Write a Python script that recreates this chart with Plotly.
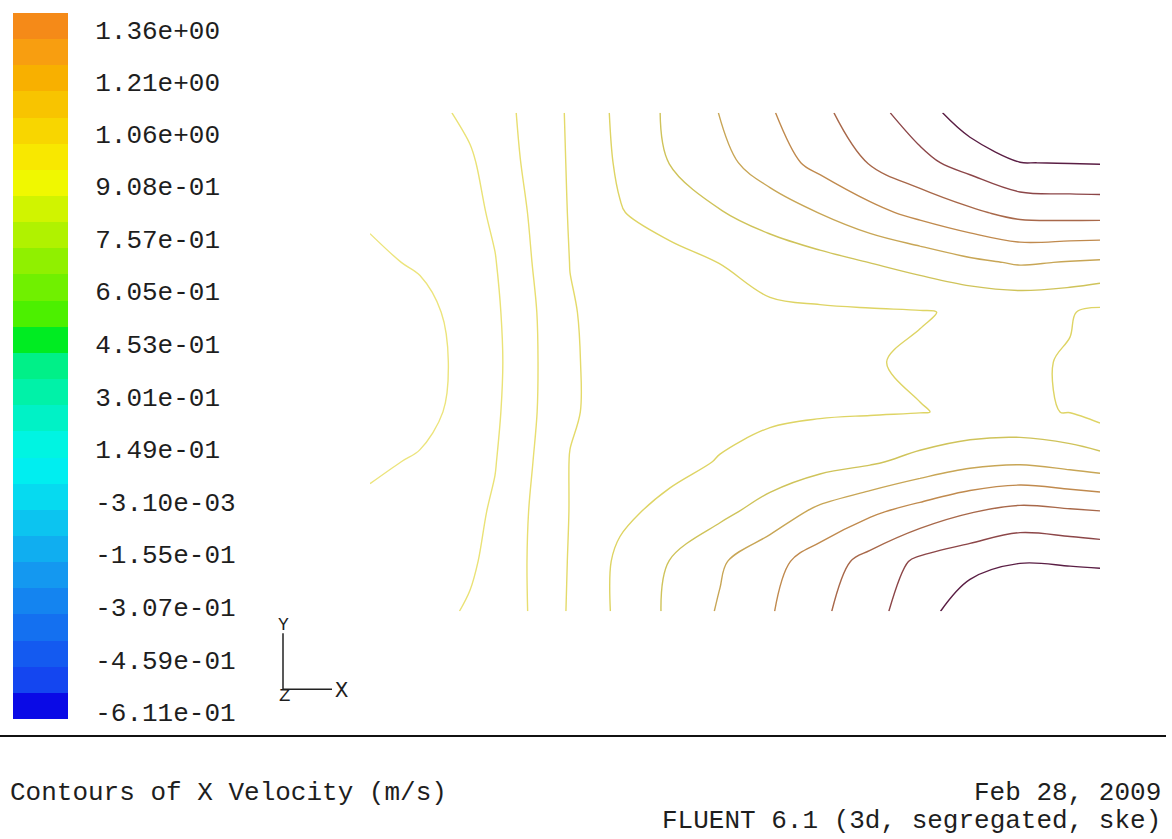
import numpy as np
import plotly.graph_objects as go

# ---------------- data ----------------
# grid node positions of the sampled X-velocity field (m)
X_NODES = [0.00, 0.05, 0.10, 0.125, 0.15, 0.20, 0.25, 0.30, 0.35, 0.40, 0.45,
           0.50, 0.55, 0.60, 0.65, 0.70, 0.73]
Y_NODES = [0.25, 0.20, 0.15, 0.10, 0.05, 0.00, -0.05, -0.10, -0.15, -0.20, -0.25]

# X velocity (m/s), one row per Y node (top -> bottom)
U_ROW_1 = [0.851, 0.870, 0.917, 0.947, 0.980, 1.059, 1.143, 1.214, 1.277, 1.343, 1.406, 1.474, 1.538, 1.620, 1.673, 1.680, 1.688]
U_ROW_2 = [0.848, 0.866, 0.890, 0.932, 0.974, 1.057, 1.136, 1.202, 1.253, 1.313, 1.373, 1.429, 1.481, 1.528, 1.574, 1.577, 1.579]
U_ROW_3 = [0.836, 0.855, 0.881, 0.911, 0.961, 1.055, 1.121, 1.158, 1.196, 1.237, 1.277, 1.328, 1.372, 1.412, 1.448, 1.454, 1.455]
U_ROW_4 = [0.810, 0.834, 0.877, 0.897, 0.951, 1.051, 1.076, 1.100, 1.126, 1.151, 1.175, 1.201, 1.228, 1.260, 1.283, 1.271, 1.265]
U_ROW_5 = [0.784, 0.800, 0.859, 0.888, 0.939, 1.046, 1.073, 1.091, 1.103, 1.114, 1.116, 1.118, 1.121, 1.133, 1.136, 1.129, 1.110]
U_ROW_6 = [0.776, 0.791, 0.851, 0.884, 0.935, 1.046, 1.065, 1.084, 1.095, 1.103, 1.110, 1.121, 1.133, 1.134, 1.133, 1.121, 1.103]
U_ROW_7 = [0.784, 0.797, 0.858, 0.888, 0.939, 1.044, 1.073, 1.091, 1.103, 1.114, 1.118, 1.120, 1.123, 1.133, 1.133, 1.123, 1.095]
U_ROW_8 = [0.810, 0.834, 0.877, 0.897, 0.948, 1.052, 1.077, 1.103, 1.129, 1.149, 1.170, 1.190, 1.223, 1.253, 1.264, 1.244, 1.229]
U_ROW_9 = [0.844, 0.855, 0.884, 0.908, 0.959, 1.052, 1.110, 1.145, 1.181, 1.232, 1.292, 1.337, 1.379, 1.421, 1.448, 1.436, 1.428]
U_ROW_10 = [0.851, 0.866, 0.889, 0.923, 0.962, 1.055, 1.140, 1.202, 1.266, 1.325, 1.386, 1.450, 1.515, 1.545, 1.571, 1.564, 1.557]
U_ROW_11 = [0.855, 0.870, 0.908, 0.934, 0.960, 1.058, 1.141, 1.213, 1.283, 1.344, 1.409, 1.477, 1.538, 1.628, 1.673, 1.680, 1.688]

# contour levels drawn (m/s)
LEVEL_START = 0.825
LEVEL_END = 1.575
LEVEL_STEP = 0.075

# colour-map legend values and labels
LEGEND_VALUES = [1.36, 1.21, 1.06, 0.908, 0.757, 0.605, 0.453, 0.301, 0.149,
                 -0.0031, -0.155, -0.307, -0.459, -0.611]
LEGEND_LABELS = ["1.36e+00", "1.21e+00", "1.06e+00", "9.08e-01", "7.57e-01",
                 "6.05e-01", "4.53e-01", "3.01e-01", "1.49e-01", "-3.10e-03",
                 "-1.55e-01", "-3.07e-01", "-4.59e-01", "-6.11e-01"]
LEGEND_MIN = -0.6312
LEGEND_MAX = 1.409

TITLE_TEXT = "Contours of X Velocity (m/s)"
DATE_TEXT = "Feb 28, 2009"
SOLVER_TEXT = "FLUENT 6.1 (3d, segregated, ske)"

# ---------------- style ----------------
BAND_COLORS = [  # bottom -> top
    "#0a0ae6", "#1446f0", "#145af0", "#1470f0", "#1484f0", "#1498f0", "#10aef0",
    "#0cc4f0", "#06daf0", "#00eef0", "#00f4e2", "#00f2c6", "#00f2a8", "#00f088",
    "#00ec22", "#4cf000", "#70f000", "#90f000", "#b0f200", "#d0f400", "#f0f800",
    "#f8e800", "#f8d600", "#f8c400", "#f8b000", "#f89e10", "#f58a18"]
LINE_COLORS = ["#ece47c", "#eae276", "#e8de70", "#e4da6a", "#ded464", "#cfc35a",
               "#c8a656", "#c08a4e", "#a8684a", "#8c4648", "#5a1e44"]
FONT = "Liberation Mono"
TEXT_COLOR = "#1e1e1e"
W, H = 1172, 839
SY = 830.0 / 839.0  # observed vertical rendering factor of the capture

U = [U_ROW_1, U_ROW_2, U_ROW_3, U_ROW_4, U_ROW_5, U_ROW_6, U_ROW_7,
     U_ROW_8, U_ROW_9, U_ROW_10, U_ROW_11]

# pixel -> paper helpers (reference-picture pixels)
px = lambda v: v / W
py = lambda v: 1 - (v / SY) / H

fig = go.Figure()

n_lines = len(LINE_COLORS)
line_scale = [[i / (n_lines - 1), c] for i, c in enumerate(LINE_COLORS)]
fig.add_trace(go.Contour(
    x=X_NODES, y=Y_NODES, z=U,
    contours=dict(start=LEVEL_START, end=LEVEL_END + 1e-6, size=LEVEL_STEP,
                  coloring="lines", showlabels=False),
    colorscale=line_scale, zmin=LEVEL_START, zmax=LEVEL_END,
    line=dict(width=1.4, smoothing=1.0),
    showscale=False, hoverinfo="skip",
    xaxis="x", yaxis="y"))

# colour-map legend bar
nb = len(BAND_COLORS)
band_scale = []
for i, c in enumerate(BAND_COLORS):
    band_scale.append([i / nb, c])
    band_scale.append([(i + 1) / nb, c])
edges = np.linspace(LEGEND_MIN, LEGEND_MAX, nb + 1)
fig.add_trace(go.Heatmap(
    x=[0, 1], y=edges, z=[[i + 0.5] for i in range(nb)],
    zmin=0, zmax=nb, colorscale=band_scale,
    showscale=False, hoverinfo="skip", xaxis="x2", yaxis="y2"))

# main axes: domain x 0->1100 px maps 0->0.73, y 113->612 px maps 0.25->-0.25
top_px, bot_px = 113 / SY, 612 / SY
k = (bot_px - top_px) / 0.5
y_hi = 0.25 + top_px / k
y_lo = 0.25 - (H - top_px) / k

shapes = [
    dict(type="line", xref="paper", yref="paper", x0=0, x1=px(1166), y0=py(737), y1=py(737),
         line=dict(color="#111111", width=2)),
    dict(type="line", xref="paper", yref="paper", x0=px(283), x1=px(283), y0=py(634), y1=py(690),
         line=dict(color="#222222", width=1.5)),
    dict(type="line", xref="paper", yref="paper", x0=px(283), x1=px(332), y0=py(690), y1=py(690),
         line=dict(color="#222222", width=1.5)),
]

tf = dict(family=FONT, size=26, color=TEXT_COLOR)
annotations = [
    dict(text=TITLE_TEXT, x=px(8), y=py(794), xref="paper", yref="paper",
         xanchor="left", yanchor="middle", showarrow=False, font=tf),
    dict(text=DATE_TEXT, x=px(1163), y=py(794), xref="paper", yref="paper",
         xanchor="right", yanchor="middle", showarrow=False, font=tf),
    dict(text=SOLVER_TEXT, x=px(1163), y=py(822), xref="paper", yref="paper",
         xanchor="right", yanchor="middle", showarrow=False, font=tf),
    dict(text="Y", x=px(283), y=py(626), xref="paper", yref="paper",
         xanchor="center", yanchor="middle", showarrow=False,
         font=dict(family=FONT, size=18, color=TEXT_COLOR)),
    dict(text="X", x=px(341), y=py(692), xref="paper", yref="paper",
         xanchor="center", yanchor="middle", showarrow=False,
         font=dict(family=FONT, size=22, color=TEXT_COLOR)),
    dict(text="Z", x=px(284), y=py(697), xref="paper", yref="paper",
         xanchor="center", yanchor="middle", showarrow=False,
         font=dict(family=FONT, size=19, color=TEXT_COLOR)),
]

fig.update_layout(
    width=W, height=H,
    margin=dict(l=0, r=0, t=0, b=0),
    paper_bgcolor="white", plot_bgcolor="rgba(0,0,0,0)",
    showlegend=False,
    xaxis=dict(domain=[0, 1], range=[-0.370, 0.802], visible=False, fixedrange=True),
    yaxis=dict(domain=[0, 1], range=[y_lo, y_hi], visible=False, fixedrange=True),
    xaxis2=dict(domain=[px(13), px(68)], range=[0, 1], visible=False, anchor="y2"),
    yaxis2=dict(domain=[py(720), py(13)], range=[LEGEND_MIN, LEGEND_MAX], anchor="x2",
                side="right", showgrid=False, zeroline=False, showline=False,
                tickmode="array", tickvals=LEGEND_VALUES, ticktext=LEGEND_LABELS,
                ticks="outside", ticklen=21, tickcolor="rgba(0,0,0,0)",
                tickfont=tf),
    shapes=shapes, annotations=annotations,
)

fig.write_html(
    "out.html",
    config={"displayModeBar": False},
    post_script=(
        "document.documentElement.style.margin='0';"
        "document.body.style.margin='0';document.body.style.padding='0';"
        "document.body.style.overflow='hidden';"
        "var gd=document.getElementById('{plot_id}');"
        "gd.style.position='fixed';gd.style.left='0px';gd.style.top='0px';"
    ),
)
